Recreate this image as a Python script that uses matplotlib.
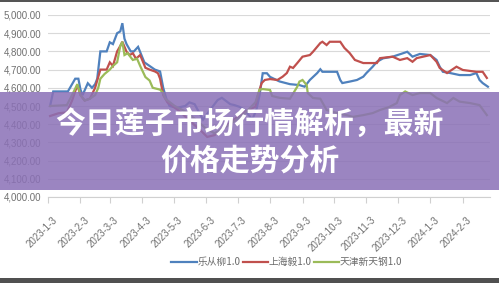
import pandas as pd
import matplotlib
matplotlib.use('Agg')
import matplotlib.pyplot as plt
from matplotlib.patches import Rectangle

#
# data
#
title_lines = ['今日莲子市场行情解析，最新', '价格走势分析']
series_names = ['乐从柳1.0', '上海毅1.0', '天津新天钢1.0']
series_colors = ['#4f81bd', '#c0504d', '#9bbb59']

blue_dates = ['2023-01-05', '2023-01-08', '2023-01-22', '2023-01-24', '2023-01-29', '2023-02-01',
              '2023-02-03', '2023-02-05', '2023-02-10', '2023-02-14', '2023-02-17', '2023-02-19',
              '2023-02-22', '2023-02-28', '2023-03-03', '2023-03-06', '2023-03-10', '2023-03-13',
              '2023-03-15', '2023-03-17', '2023-03-19', '2023-03-23', '2023-03-26', '2023-03-30',
              '2023-04-05', '2023-04-10', '2023-04-15', '2023-04-20', '2023-04-23', '2023-04-26',
              '2023-04-29', '2023-05-06', '2023-05-14', '2023-05-18', '2023-05-23', '2023-05-31',
              '2023-06-07', '2023-06-14', '2023-06-18', '2023-06-26', '2023-06-30', '2023-07-05',
              '2023-07-10', '2023-07-17', '2023-07-21', '2023-07-24', '2023-07-27', '2023-07-31',
              '2023-08-03', '2023-08-12', '2023-08-22', '2023-08-31', '2023-09-05', '2023-09-10',
              '2023-09-17', '2023-09-20', '2023-09-22', '2023-10-06', '2023-10-09', '2023-10-11',
              '2023-10-18', '2023-10-25', '2023-10-31', '2023-11-03', '2023-11-09', '2023-11-13',
              '2023-11-19', '2023-11-28', '2023-12-08', '2023-12-12', '2023-12-17', '2023-12-24',
              '2024-01-03', '2024-01-09', '2024-01-12', '2024-01-15', '2024-01-22', '2024-01-31',
              '2024-02-10', '2024-02-16', '2024-02-19', '2024-02-22', '2024-02-27']
blue_values = [4500, 4580, 4580, 4600, 4650, 4650,
               4590, 4560, 4625, 4600, 4620, 4650,
               4800, 4800, 4850, 4840, 4900, 4910,
               4955, 4870, 4840, 4800, 4800, 4825,
               4740, 4720, 4700, 4690, 4600, 4540,
               4500, 4490, 4500, 4520, 4510, 4425,
               4480, 4533, 4545, 4510, 4505, 4495,
               4478, 4425, 4480, 4560, 4680, 4680,
               4660, 4635, 4620, 4615, 4606, 4643,
               4681, 4702, 4688, 4688, 4643, 4626,
               4634, 4643, 4661, 4681, 4716, 4743,
               4762, 4771, 4790, 4798, 4771, 4786,
               4780, 4753, 4716, 4688, 4681, 4670,
               4670, 4681, 4643, 4626, 4606]

red_dates = ['2023-01-05', '2023-01-13', '2023-01-21', '2023-01-26', '2023-01-31', '2023-02-03',
             '2023-02-07', '2023-02-12', '2023-02-17', '2023-02-22', '2023-02-28', '2023-03-03',
             '2023-03-06', '2023-03-10', '2023-03-13', '2023-03-15', '2023-03-19', '2023-03-22',
             '2023-03-25', '2023-03-28', '2023-04-01', '2023-04-06', '2023-04-10', '2023-04-15',
             '2023-04-18', '2023-04-20', '2023-04-23', '2023-04-27', '2023-05-09', '2023-05-18',
             '2023-05-28', '2023-06-04', '2023-06-11', '2023-06-21', '2023-07-03', '2023-07-10',
             '2023-07-20', '2023-07-22', '2023-07-26', '2023-07-29', '2023-08-03', '2023-08-10',
             '2023-08-15', '2023-08-19', '2023-08-22', '2023-08-25', '2023-08-29', '2023-09-03',
             '2023-09-10', '2023-09-13', '2023-09-20', '2023-09-22', '2023-09-26', '2023-09-29',
             '2023-10-09', '2023-10-13', '2023-10-18', '2023-10-23', '2023-10-31', '2023-11-13',
             '2023-11-16', '2023-11-28', '2023-12-05', '2023-12-12', '2023-12-17', '2023-12-21',
             '2024-01-03', '2024-01-09', '2024-01-12', '2024-01-19', '2024-01-28', '2024-02-03',
             '2024-02-16', '2024-02-22', '2024-02-26']
red_values = [4445, 4460, 4465, 4530, 4615, 4560,
              4530, 4540, 4600, 4700, 4700, 4740,
              4720, 4800, 4830, 4853, 4798, 4780,
              4790, 4760, 4780, 4710, 4700, 4690,
              4680, 4650, 4560, 4520, 4470, 4420,
              4370, 4330, 4340, 4386, 4441, 4469,
              4496, 4551, 4626, 4643, 4648, 4643,
              4661, 4681, 4716, 4709, 4736, 4771,
              4780, 4798, 4846, 4853, 4835, 4853,
              4853, 4819, 4791, 4753, 4736, 4736,
              4763, 4771, 4753, 4763, 4743, 4763,
              4780, 4743, 4709, 4681, 4716, 4698,
              4688, 4688, 4654]

green_dates = ['2023-01-05', '2023-01-21', '2023-01-26', '2023-01-31', '2023-02-03', '2023-02-07',
               '2023-02-12', '2023-02-17', '2023-02-20', '2023-02-22', '2023-02-26', '2023-03-03',
               '2023-03-06', '2023-03-10', '2023-03-13', '2023-03-15', '2023-03-17', '2023-03-20',
               '2023-03-25', '2023-03-29', '2023-04-01', '2023-04-06', '2023-04-10', '2023-04-13',
               '2023-04-20', '2023-04-23', '2023-04-25', '2023-05-04', '2023-05-14', '2023-05-23',
               '2023-06-02', '2023-06-11', '2023-06-26', '2023-07-10', '2023-07-20', '2023-07-24',
               '2023-07-27', '2023-08-03', '2023-08-05', '2023-08-12', '2023-08-22', '2023-08-29',
               '2023-08-31', '2023-09-03', '2023-09-07', '2023-09-08', '2023-09-13', '2023-09-20',
               '2023-09-26', '2023-10-06', '2023-10-15', '2023-10-21', '2023-10-31', '2023-11-09',
               '2023-11-16', '2023-11-25', '2023-12-02', '2023-12-05', '2023-12-10', '2023-12-17',
               '2023-12-24', '2024-01-03', '2024-01-09', '2024-01-19', '2024-01-25', '2024-01-31',
               '2024-02-10', '2024-02-19', '2024-02-26']
green_values = [4500, 4505, 4560, 4620, 4560, 4530,
                4540, 4560, 4600, 4650, 4676, 4700,
                4720, 4740, 4830, 4853, 4780, 4790,
                4753, 4760, 4720, 4659, 4640, 4600,
                4590, 4570, 4540, 4500, 4470, 4430,
                4380, 4350, 4400, 4460, 4520, 4590,
                4593, 4588, 4555, 4545, 4540, 4606,
                4634, 4643, 4615, 4571, 4544, 4540,
                4478, 4461, 4450, 4440, 4450, 4461,
                4478, 4495, 4516, 4560, 4580, 4560,
                4571, 4571, 4544, 4516, 4544, 4524,
                4516, 4505, 4450]

tick_dates = ['2023-1-3', '2023-2-3', '2023-3-3', '2023-4-3', '2023-5-3', '2023-6-3', '2023-7-3',
              '2023-8-3', '2023-9-3', '2023-10-3', '2023-11-3', '2023-12-3', '2024-1-3', '2024-2-3']
y_ticks = [4000, 4100, 4200, 4300, 4400, 4500, 4600, 4700, 4800, 4900, 5000]


W, H = 499, 283
fig = plt.figure(figsize=(W / 100, H / 100), dpi=100)
fig.patch.set_facecolor('white')

ax = fig.add_axes([48 / W, 86 / H, 442 / W, 182 / H])
ax.set_facecolor('white')

all_series = [(blue_dates, blue_values), (red_dates, red_values), (green_dates, green_values)]
for (dates, values), name, color in zip(all_series, series_names, series_colors):
    ax.plot(pd.to_datetime(dates), values, color=color, lw=1.6, label=name,
            solid_joinstyle='miter', zorder=3)

# axes, grid and ticks
ax.set_ylim(4000, 5000)
ax.set_yticks(y_ticks)
ax.set_yticklabels([f'{v:,.2f}' for v in y_ticks])
ax.set_xlim(pd.Timestamp('2023-01-03'), pd.Timestamp('2024-02-29'))
tick_pos = pd.to_datetime(tick_dates, format='%Y-%m-%d')
ax.set_xticks(tick_pos)
ax.set_xticklabels(tick_dates, rotation=45, ha='right', rotation_mode='anchor')

ax.grid(axis='y', color='#d9d9d9', lw=0.8, zorder=0)
for side in ['top', 'right', 'left']:
    ax.spines[side].set_visible(False)
ax.spines['bottom'].set_color('#d0d0d0')
ax.spines['bottom'].set_linewidth(0.8)
ax.tick_params(axis='y', length=0, pad=5, labelsize=7, labelcolor='#707070')
ax.tick_params(axis='x', length=4, width=0.8, color='#d0d0d0', pad=9,
               labelsize=7, labelcolor='#707070')
for lab in ax.get_yticklabels() + ax.get_xticklabels():
    lab.set_family('Liberation Sans')
# nudge the rotated date labels a bit to the right, like the reference
import matplotlib.transforms as mtransforms
shift = mtransforms.ScaledTranslation(4 / 100, 0, fig.dpi_scale_trans)
for lab in ax.get_xticklabels():
    lab.set_transform(lab.get_transform() + shift)

# legend at the bottom
leg = fig.legend(loc='center', bbox_to_anchor=(287 / W, 1 - 262 / H), ncol=3, frameon=False,
                 handlelength=2.6, handletextpad=0.1, columnspacing=0.2,
                 prop={'family': ['Noto Sans CJK SC', 'DejaVu Sans'], 'size': 7})
for t in leg.get_texts():
    t.set_color('#6b6b6b')

# purple banner over the chart
fig.patches.append(Rectangle((0, 1 - 190 / H), 1, 98 / H, transform=fig.transFigure,
                             facecolor='#8a70b6', alpha=0.85, edgecolor='none', zorder=5))
for i, line in enumerate(title_lines):
    fig.text(0.5, 1 - (125 + 36 * i) / H, line, ha='center', va='center', color='white',
             fontsize=21.5, fontweight='black', family=['Noto Sans CJK SC', 'DejaVu Sans'],
             zorder=6)

# frame lines of the screenshot
fig.patches.append(Rectangle((0, 1 - 2 / H), 1, 2 / H, transform=fig.transFigure,
                             facecolor='#555555', edgecolor='none', zorder=7))
fig.patches.append(Rectangle((0, 0), 1, 5 / H, transform=fig.transFigure,
                             facecolor='#505050', edgecolor='none', zorder=7))

fig.savefig('out.png', dpi=100)
